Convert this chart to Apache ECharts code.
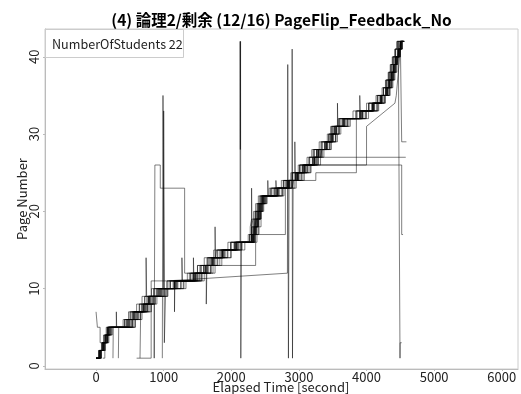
<!DOCTYPE html>
<html>
<head>
<meta charset="utf-8">
<script src="https://cdn.jsdelivr.net/npm/echarts@6/dist/echarts.min.js"></script>
<style>
  html, body { margin: 0; padding: 0; background: #fff; }
  #chart { width: 521px; height: 394px; }
</style>
</head>
<body>
<div id="chart"></div>
<script>
// tick labels
const xTicks = [0, 1000, 2000, 3000, 4000, 5000, 6000];
const yTicks = [0, 10, 20, 30, 40];

// each student: [elapsed second, page] when the page changed; a third item 1 = straight line from the previous point
const student01 = [[0,1],[40,2],[80,3],[120,4],[150,5],[400,6],[480,7],[600,8],[680,9],[740,14],[748,9],[820,10],[1050,11],[1350,12],[1500,13],[1600,14],[1740,15],[1950,16],[2250,17],[2280,18],[2300,19],[2330,20],[2360,21],[2400,22],[2560,23],[2740,24],[2880,25],[2990,26],[3120,27],[3190,28],[3300,29],[3420,30],[3470,31],[3580,32],[3800,33],[4000,34],[4140,35],[4230,36],[4280,37],[4320,38],[4350,39],[4380,40],[4420,41],[4450,42],[4540,42]];
const student02 = [[0,1],[60,2],[100,3],[150,4],[190,5],[470,6],[560,7],[700,8],[780,9],[920,10],[1180,11],[1270,14],[1278,11],[1470,12],[1620,13],[1720,14],[1870,15],[2070,16],[2310,17],[2340,18],[2380,19],[2410,20],[2440,21],[2480,22],[2670,23],[2840,24],[2900,23],[2920,24],[2970,25],[3070,26],[3220,27],[3280,28],[3400,29],[3490,30],[3540,31],[3660,32],[3920,33],[4100,34],[4220,35],[4300,36],[4340,37],[4380,38],[4410,39],[4440,40],[4480,41],[4510,42],[4560,42]];
const student03 = [[0,7],[20,5],[60,3],[110,4],[170,5],[500,6],[580,7],[720,8],[800,9],[950,10],[1200,11],[1440,14],[1448,11],[1500,12],[1650,13],[1750,14],[1900,15],[2100,16],[2330,17],[2350,19],[2390,20],[2420,21],[2460,22],[2700,23],[2850,24],[2980,25],[3090,26],[3230,27],[3300,28],[3420,29],[3500,30],[3560,31],[3700,32],[3950,33],[4120,34],[4230,35],[4310,36],[4360,38],[4400,39],[4430,40],[4470,41],[4500,42],[4550,42]];
const student04 = [[650,1],[660,7],[720,8],[790,9],[960,10],[1150,11],[1450,12],[1630,8],[1640,13],[1710,14],[1860,15],[2060,16],[2300,17],[2330,18],[2360,20],[2400,21],[2450,22],[2640,23],[2830,24],[2960,25],[3060,26],[3210,27],[3270,28],[3390,29],[3480,30],[3530,31],[3650,32],[3910,33],[4090,34],[4210,35],[4290,36],[4330,37],[4370,38],[4400,39],[4430,40],[4470,41],[4500,42],[4520,42]];
const student05 = [[600,1],[815,11],[1160,7],[1166,11],[1480,12],[1640,13],[1740,14],[1880,15],[2080,16],[2320,17],[2350,18],[2370,19],[2400,20],[2430,21],[2470,22],[2690,23],[2860,24],[2990,25],[3080,26],[3240,27],[3290,28],[3410,29],[3500,30],[3550,31],[3680,32],[3940,33],[4110,34],[4230,35],[4310,36],[4350,37],[4390,38],[4420,39],[4450,40],[4490,41],[4520,42],[4550,42]];
const student06 = [[100,1],[130,3],[180,5],[520,6],[600,7],[740,8],[860,1],[870,26],[950,23],[1310,12],[1500,13],[1680,14],[1830,15],[2040,16],[2300,17],[2350,19],[2400,21],[2450,22],[2630,23],[2820,24],[2950,25],[3050,26],[3200,27],[3260,28],[3380,29],[3470,30],[3520,31],[3640,32],[3900,33],[4080,34],[4200,35],[4280,36],[4320,37],[4360,38],[4390,39],[4420,40],[4460,41],[4500,42],[4530,42]];
const student07 = [[0,1],[70,2],[120,3],[170,4],[200,5],[480,6],[560,7],[680,8],[770,9],[930,10],[1000,33],[1010,3],[1030,10],[1160,11],[1430,12],[1590,13],[1700,14],[1850,15],[2050,16],[2320,17],[2350,18],[2380,20],[2420,21],[2460,22],[2660,23],[2830,24],[2960,25],[3060,26],[3220,27],[3270,28],[3320,27],[3340,28],[3390,29],[3480,30],[3530,31],[3660,32],[3910,33],[4090,34],[4210,35],[4290,36],[4330,37],[4370,38],[4400,39],[4430,40],[4470,41],[4500,42],[4540,42]];
const student08 = [[980,1],[990,35],[1005,10],[1170,11],[1460,12],[1610,13],[1730,14],[1880,15],[2080,16],[2330,17],[2360,18],[2390,19],[2420,21],[2470,22],[2680,23],[2850,24],[2970,25],[3080,26],[3230,27],[3290,28],[3410,29],[3490,30],[3550,31],[3670,32],[3930,33],[4100,34],[4220,35],[4300,36],[4340,37],[4380,38],[4410,39],[4440,40],[4480,41],[4510,42],[4550,42]];
const student09 = [[0,1],[50,2],[90,3],[140,4],[180,5],[450,6],[540,7],[690,8],[770,9],[900,10],[1140,11],[1440,12],[1590,13],[1700,14],[1850,15],[2050,16],[2130,42],[2134,28],[2137,42],[2141,1],[2150,16],[2300,17],[2330,18],[2360,19],[2390,20],[2420,21],[2460,22],[2650,23],[2820,24],[2950,25],[3050,26],[3200,27],[3260,28],[3380,29],[3470,30],[3520,31],[3640,32],[3900,33],[4080,34],[4200,35],[4280,36],[4320,37],[4360,38],[4390,39],[4420,40],[4460,41],[4500,42],[4530,42]];
const student10 = [[0,1],[80,2],[140,4],[190,5],[540,6],[620,7],[760,8],[840,9],[960,10],[1050,11],[2830,12,1],[2835,39],[2845,1],[2855,24],[2990,25],[3090,26],[3240,27],[3300,28],[3420,29],[3510,30],[3560,31],[3680,32],[3940,33],[4110,34],[4230,35],[4310,36],[4350,37],[4390,38],[4420,39],[4450,40],[4490,41],[4520,42],[4550,42]];
const student11 = [[0,1],[60,2],[110,3],[160,4],[190,5],[490,6],[570,7],[710,8],[790,9],[940,10],[1190,11],[1490,12],[1630,13],[1730,14],[1880,15],[2090,16],[2330,17],[2360,18],[2390,19],[2420,20],[2450,21],[2490,22],[2690,23],[2860,24],[2900,41],[2905,1],[2915,24],[2980,25],[3080,26],[3230,27],[3290,28],[3410,29],[3500,30],[3550,31],[3670,32],[3930,33],[4100,34],[4220,35],[4300,36],[4340,37],[4380,38],[4410,39],[4440,40],[4480,41],[4510,42],[4560,42]];
const student12 = [[0,1],[70,2],[120,3],[160,4],[210,5],[500,6],[590,7],[730,8],[810,9],[970,10],[1210,11],[1510,12],[1660,13],[1760,14],[1910,15],[2110,16],[2340,17],[2370,18],[2400,19],[2430,20],[2460,21],[2500,22],[2710,23],[2880,24],[3000,25],[3100,26],[4000,31],[4420,34,1],[4440,35],[4460,37],[4480,39],[4500,41],[4520,42],[4550,42]];
const student13 = [[0,1],[50,2],[100,3],[150,4],[180,5],[460,6],[550,7],[700,8],[780,9],[910,10],[1160,11],[1460,12],[1610,13],[1720,14],[1870,15],[2070,16],[2320,17],[2350,18],[2380,19],[2410,20],[2440,21],[2480,22],[2680,23],[2850,24],[2980,25],[3120,26],[4520,17],[4540,17]];
const student14 = [[0,1],[80,2],[130,3],[190,4],[240,5],[580,6],[660,7],[800,8],[880,9],[1060,10],[1330,11],[1600,12],[1760,13],[1860,14],[2000,15],[2200,16],[2380,17],[2410,18],[2440,20],[2480,21],[2530,22],[2780,23],[2960,24],[3080,25],[3180,26],[3260,27],[4580,27]];
const student15 = [[0,1],[40,2],[90,3],[130,4],[170,5],[440,6],[530,7],[670,8],[750,9],[890,10],[1100,11],[1400,12],[1540,13],[1650,14],[1790,15],[1990,16],[2270,17],[2300,18],[2330,19],[2360,20],[2390,21],[2430,22],[2580,23],[2770,24],[2900,25],[3010,26],[3150,27],[3210,28],[3330,29],[3440,30],[3480,31],[3590,32],[3840,33],[4030,34],[4160,35],[4250,36],[4290,37],[4330,38],[4360,39],[4390,40],[4430,41],[4470,42],[4495,1],[4497,3],[4520,3]];
const student16 = [[0,1],[60,2],[110,3],[160,4],[210,5],[530,6],[620,7],[750,8],[840,9],[1000,10],[1250,11],[1530,12],[1690,13],[1790,14],[1940,15],[2130,16],[2340,17],[2370,18],[2400,19],[2430,20],[2460,21],[2510,22],[2740,23],[2890,24],[3030,25],[3130,26],[3280,27],[3330,28],[3450,29],[3540,30],[3590,31],[3720,32],[3980,33],[4150,34],[4260,35],[4330,36],[4370,37],[4400,38],[4430,39],[4460,40],[4480,41],[4500,42],[4520,29],[4590,29]];
const student17 = [[0,1],[50,2],[100,3],[140,4],[170,5],[420,6],[510,7],[640,8],[720,9],[860,10],[1100,11],[1400,12],[1560,13],[1660,14],[1800,15],[2000,16],[2280,17],[2310,18],[2340,19],[2370,20],[2400,21],[2440,22],[2540,24],[2546,22],[2600,23],[2780,24],[2910,25],[3020,26],[3160,27],[3230,28],[3350,29],[3450,30],[3500,31],[3570,34],[3576,31],[3610,32],[3860,33],[4040,34],[4170,35],[4250,36],[4300,37],[4340,38],[4370,39],[4400,40],[4430,41],[4460,42],[4540,42]];
const student18 = [[0,1],[70,2],[110,3],[170,4],[220,5],[540,6],[620,7],[760,8],[850,9],[1010,10],[1260,11],[1550,12],[1700,13],[1800,14],[1950,15],[2150,16],[2350,17],[2800,24],[3000,25],[3120,26],[3270,27],[3330,28],[3450,29],[3540,30],[3590,31],[3720,32],[3990,33],[4160,34],[4260,35],[4330,36],[4370,37],[4400,38],[4430,39],[4460,40],[4490,41],[4520,42],[4550,42]];
const student19 = [[330,1],[335,5],[580,6],[680,7],[820,8],[900,9],[1060,10],[1300,11],[1560,12],[1700,13],[2360,17],[2400,19],[2440,21],[2500,22],[2760,23],[2940,24],[3060,25],[3170,26],[3320,27],[3370,28],[3480,29],[3570,30],[3620,31],[3760,32],[4030,33],[4180,34],[4280,35],[4350,36],[4390,37],[4420,38],[4450,39],[4470,40],[4500,41],[4530,42],[4560,42]];
const student20 = [[250,1],[255,5],[300,7],[305,5],[470,6],[560,7],[700,8],[780,9],[930,10],[1170,11],[1470,12],[1620,13],[1730,14],[1870,15],[2070,16],[2310,17],[2340,18],[2370,19],[2400,20],[2440,21],[2480,22],[2680,23],[2850,24],[3250,25],[3850,33],[4090,34],[4210,35],[4290,36],[4330,37],[4370,38],[4400,39],[4430,40],[4470,41],[4500,42],[4540,42]];
const student21 = [[0,1],[40,2],[90,3],[130,4],[160,5],[420,6],[500,7],[640,8],[720,9],[850,10],[1080,11],[1380,12],[1540,13],[1640,14],[1760,18],[1766,14],[1780,15],[1990,16],[2270,17],[2300,18],[2320,19],[2350,20],[2380,21],[2420,22],[2590,23],[2660,24],[2666,23],[2770,24],[2900,25],[3010,26],[3150,27],[3220,28],[3330,29],[3440,30],[3490,31],[3600,32],[3900,35],[3906,33],[4030,34],[4160,35],[4250,36],[4290,37],[4330,38],[4360,39],[4390,40],[4420,41],[4450,42],[4530,42]];
const student22 = [[0,1],[60,2],[120,3],[170,4],[230,5],[560,6],[650,7],[780,8],[870,9],[1040,10],[1290,11],[1570,12],[1730,13],[1830,14],[1990,15],[2160,16],[2300,23],[2306,16],[2350,17],[2380,18],[2410,19],[2440,20],[2470,21],[2520,22],[2760,23],[2900,24],[2940,29],[2946,24],[3040,25],[3150,26],[3290,27],[3350,28],[3470,29],[3550,30],[3600,31],[3740,32],[4000,33],[4170,34],[4270,35],[4340,36],[4380,37],[4410,38],[4440,39],[4460,40],[4500,41],[4530,42],[4560,42]];

const students = [student01, student02, student03, student04, student05, student06, student07, student08,
  student09, student10, student11, student12, student13, student14, student15, student16,
  student17, student18, student19, student20, student21, student22];

// page stays until the next change, then jumps
function toPath(events) {
  const pts = [];
  events.forEach((e, i) => {
    if (i > 0 && !e[2]) pts.push([e[0], events[i - 1][1]]);
    pts.push([e[0], e[1]]);
  });
  return pts;
}

const font = '"Noto Sans CJK JP", "Noto Sans", sans-serif';
const chart = echarts.init(document.getElementById('chart'));

chart.setOption({
  animation: false,
  grid: { left: 45, right: 3, top: 29, bottom: 25, show: true, borderColor: '#cccccc', borderWidth: 1 },
  xAxis: {
    type: 'value', min: -755, max: 6240,
    splitLine: { show: false },
    axisLine: { onZero: false, lineStyle: { color: '#bbbbbb' } },
    axisTick: { customValues: xTicks, length: 2, lineStyle: { color: '#bbbbbb' } },
    axisLabel: { customValues: xTicks, formatter: v => String(v), color: '#222', fontSize: 13, fontFamily: font, margin: 2 }
  },
  yAxis: {
    type: 'value', min: -0.4, max: 43.6,
    splitLine: { show: false },
    axisLine: { show: true, onZero: false, lineStyle: { color: '#bbbbbb' } },
    axisTick: { show: true, customValues: yTicks, length: 2, lineStyle: { color: '#bbbbbb' } },
    axisLabel: { customValues: yTicks, color: '#222', fontSize: 13, fontFamily: font, rotate: 90, margin: 4 }
  },
  graphic: [
    { type: 'text', x: 281.5, y: 20, style: { text: '(4) 論理2/剰余 (12/16) PageFlip_Feedback_No', fontSize: 15.5, fontWeight: 'bold', fontFamily: font, fill: '#000', align: 'center', verticalAlign: 'middle' } },
    { type: 'text', x: 281, y: 387, style: { text: 'Elapsed Time [second]', fontSize: 13, fontFamily: font, fill: '#222', align: 'center', verticalAlign: 'middle' } },
    { type: 'text', x: 22, y: 199, rotation: Math.PI / 2, style: { text: 'Page Number', fontSize: 13, fontFamily: font, fill: '#222', align: 'center', verticalAlign: 'middle' } },
    { type: 'rect', z: 10, shape: { x: 45.5, y: 29.5, width: 138, height: 28 }, style: { fill: '#fff', stroke: '#cccccc', lineWidth: 1 } },
    { type: 'text', z: 11, x: 52, y: 44, style: { text: 'NumberOfStudents 22', fontSize: 12.6, fontFamily: font, fill: '#222', verticalAlign: 'middle' } }
  ],
  series: students.map((s, i) => ({
    name: 'student' + (i + 1),
    type: 'line',
    data: toPath(s),
    showSymbol: false,
    silent: true,
    lineStyle: { color: 'rgba(0,0,0,0.5)', width: 1 }
  }))
});
</script>
</body>
</html>
